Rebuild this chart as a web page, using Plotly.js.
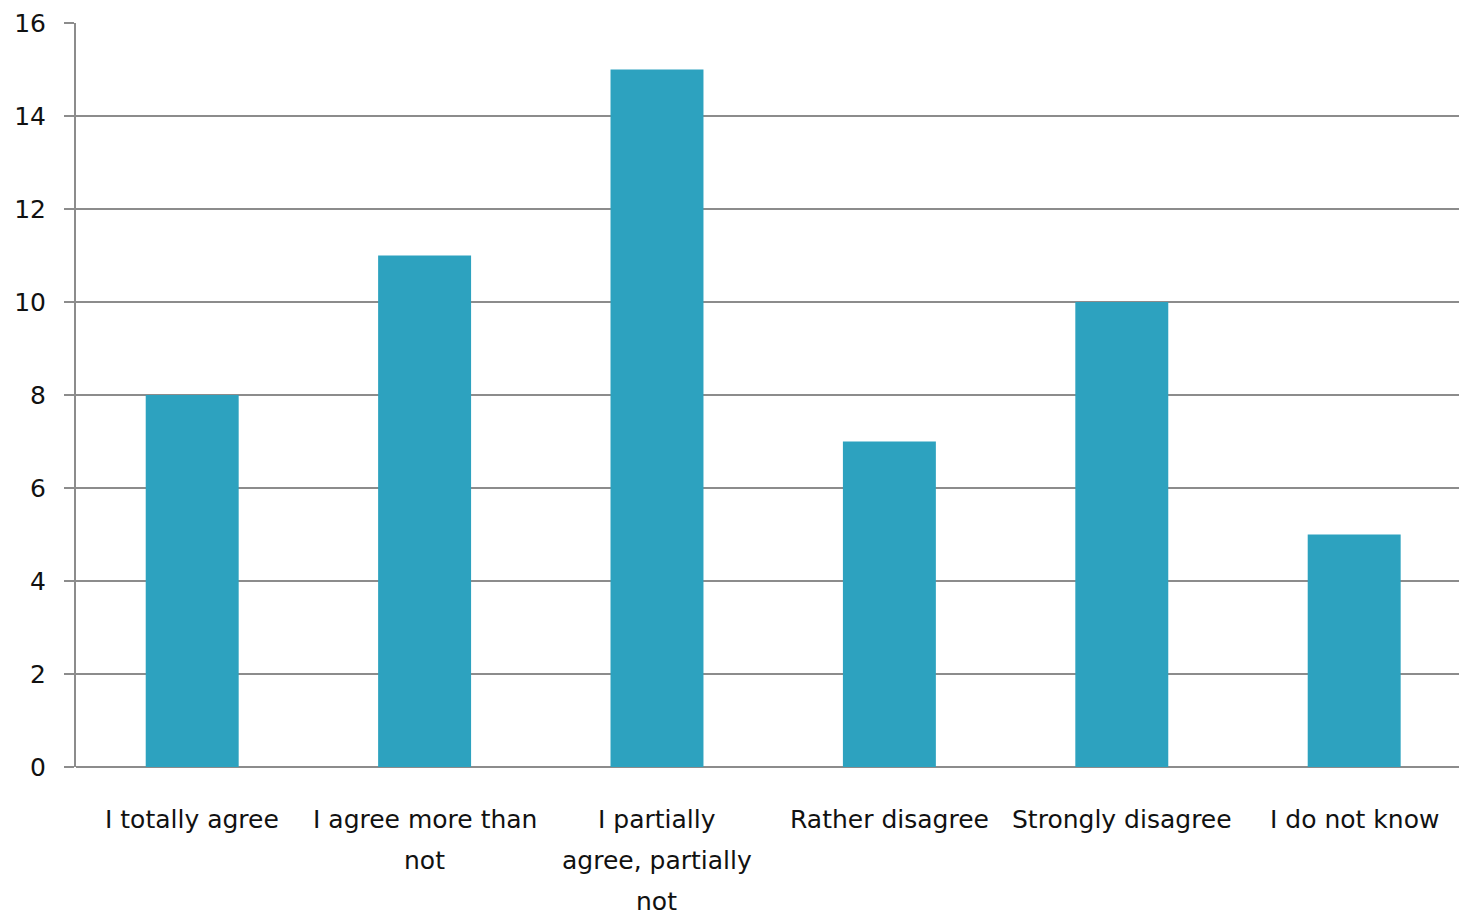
<!DOCTYPE html>
<html><head><meta charset="utf-8">
<script src="https://cdn.plot.ly/plotly-3.0.1.min.js"></script>
<style>html,body{margin:0;padding:0;background:#fff;}#chart{width:1459px;height:915px;}</style>
</head><body><div id="chart"></div>
<script>
const categories = ["I totally agree", "I agree more than not", "I partially agree, partially not", "Rather disagree", "Strongly disagree", "I do not know"];
const labelLines = [["I totally agree"], ["I agree more than", "not"], ["I partially", "agree, partially", "not"], ["Rather disagree"], ["Strongly disagree"], ["I do not know"]];
const values = [8, 11, 15, 7, 10, 5];
const yTicks = [0, 2, 4, 6, 8, 10, 12, 14, 16];

const fam = "DejaVu Sans, Verdana, sans-serif";
const annotations = [];
labelLines.forEach((lines, ci) => {
  lines.forEach((ln, li) => {
    annotations.push({x: categories[ci], y: 0, xref: "x", yref: "y", text: ln, showarrow: false,
      xanchor: "center", yanchor: "middle", yshift: -(52 + li * 41),
      font: {family: fam, size: 25, color: "#111"}});
  });
});

Plotly.newPlot("chart", [{
  type: "bar", x: categories, y: values,
  marker: {color: "#2DA2BF"}, width: 0.4, hoverinfo: "none"
}], {
  width: 1459, height: 915,
  margin: {l: 76, r: 0, t: 23, b: 148},
  paper_bgcolor: "#fff", plot_bgcolor: "#fff",
  font: {family: fam, size: 25, color: "#111"},
  showlegend: false,
  annotations: annotations,
  xaxis: {type: "category", range: [-0.5, 5.451], showgrid: false, showline: false, ticks: "",
          showticklabels: false},
  yaxis: {range: [0, 16], tickvals: yTicks, ticktext: yTicks.map(String),
          showgrid: true, gridcolor: "#8c8c8c", gridwidth: 2,
          showline: true, linecolor: "#8c8c8c", linewidth: 2,
          ticks: "outside", ticklen: 10, tickcolor: "#8c8c8c", tickwidth: 2,
          ticklabelstandoff: 13, zeroline: true, zerolinecolor: "#8c8c8c", zerolinewidth: 2,
          tickfont: {size: 25, family: fam, color: "#111"}}
}, {displayModeBar: false, staticPlot: true});
</script></body></html>
